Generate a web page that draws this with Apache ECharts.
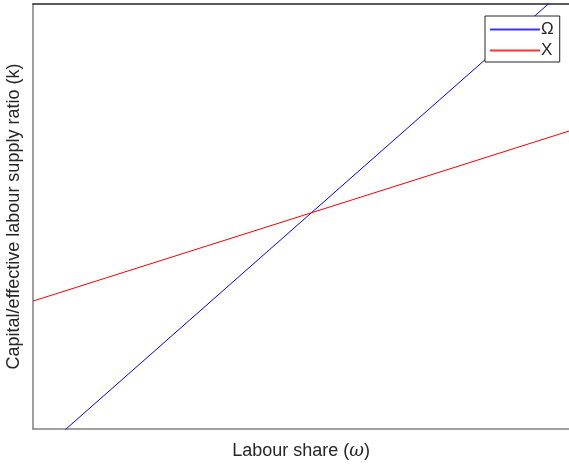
<!DOCTYPE html>
<html>
<head>
<meta charset="utf-8">
<script src="https://cdn.jsdelivr.net/npm/echarts@6/dist/echarts.min.js"></script>
<style>
  html, body { margin: 0; padding: 0; background: #fff; }
  #chart { width: 569px; height: 465px; }
</style>
</head>
<body>
<div id="chart"></div>
<script>
// labour share (x) and the two curves
const omega = [0, 1];
const omegaCurve = [-0.0685, 1.043]; // Ω
const chiCurve = [0.301, 0.701];     // X

const seriesNames = ['Ω', 'X'];
const colors = ['#0000ff', '#ff0000'];

const chart = echarts.init(document.getElementById('chart'));

const option = {
  animation: false,
  textStyle: { fontFamily: 'Liberation Sans, Arial, sans-serif' },
  grid: { left: 33, right: 0, top: 4, bottom: 36, outerBoundsMode: 'none', containLabel: false },
  legend: {
    left: 485,
    top: 16,
    orient: 'vertical',
    icon: 'rect',
    itemWidth: 50,
    itemHeight: 2,
    itemGap: 4,
    padding: [5, 6, 3, 5],
    borderColor: '#262626',
    borderWidth: 1,
    borderRadius: 0,
    backgroundColor: '#fff',
    textStyle: { color: '#262626', fontSize: 17, padding: [0, 0, 0, -4] },
    data: seriesNames.map((n, i) => ({
      name: n,
      itemStyle: { color: colors[i], opacity: 0.8 }
    }))
  },
  xAxis: [
    {
      type: 'value',
      min: 0,
      max: 1,
      name: '{n|Labour share (}{i|ω}{n|)}',
      nameLocation: 'middle',
      nameGap: 13,
      nameTextStyle: {
        color: '#262626',
        fontSize: 18,
        rich: {
          n: { color: '#262626', fontSize: 18 },
          i: { color: '#262626', fontSize: 18, fontStyle: 'italic', fontFamily: 'DejaVu Serif, serif' }
        }
      },
      axisLine: { show: true, lineStyle: { color: '#808080', width: 1.5 } },
      axisTick: { show: false },
      axisLabel: { show: false },
      splitLine: { show: false }
    },
    {
      type: 'value',
      position: 'top',
      min: 0,
      max: 1,
      axisLine: { show: true, lineStyle: { color: '#262626', width: 1.5 } },
      axisTick: { show: false },
      axisLabel: { show: false },
      splitLine: { show: false }
    }
  ],
  yAxis: {
    type: 'value',
    min: 0,
    max: 1,
    name: 'Capital/effective labour supply ratio (k)',
    nameLocation: 'middle',
    nameGap: 10,
    nameTextStyle: { color: '#262626', fontSize: 18 },
    axisLine: { show: true, lineStyle: { color: '#808080', width: 1.5 } },
    axisTick: { show: false },
    axisLabel: { show: false },
    splitLine: { show: false }
  },
  series: [
    {
      name: seriesNames[0],
      type: 'line',
      data: omega.map((x, i) => [x, omegaCurve[i]]),
      symbol: 'none',
      clip: true,
      lineStyle: { color: colors[0], width: 1 },
      itemStyle: { color: colors[0] }
    },
    {
      name: seriesNames[1],
      type: 'line',
      data: omega.map((x, i) => [x, chiCurve[i]]),
      symbol: 'none',
      clip: true,
      lineStyle: { color: colors[1], width: 1 },
      itemStyle: { color: colors[1] }
    }
  ]
};

chart.setOption(option);
</script>
</body>
</html>
